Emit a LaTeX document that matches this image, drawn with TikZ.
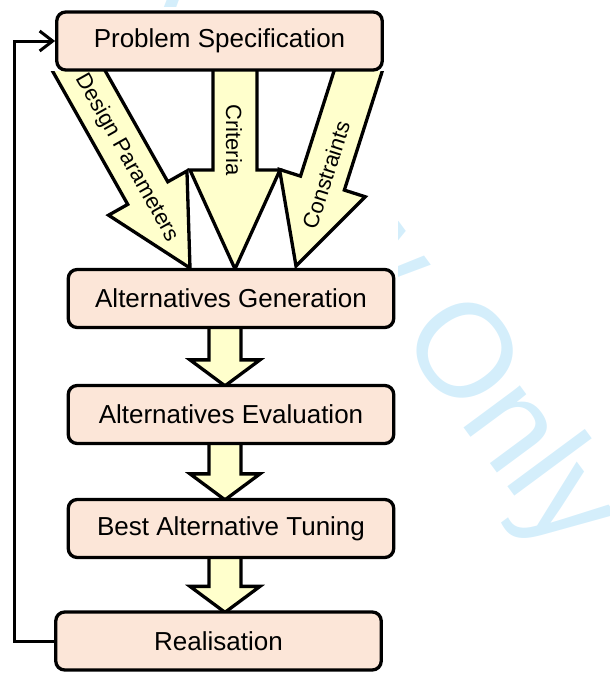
\documentclass[tikz,border=0pt]{standalone}
\usepackage{fontspec}
\setmainfont{Liberation Sans}
\usetikzlibrary{arrows.meta,calc,backgrounds}

\definecolor{boxfill}{RGB}{252,230,216}
\definecolor{arrowfill}{RGB}{255,255,204}
\definecolor{wmark}{RGB}{212,238,251}

% Block arrow: #1 tail, #2 tip, #3 shaft half-width, #4 head half-width, #5 head length
\newcommand\blockarrow[5]{%
  \path ($(#2)!#5!(#1)$) coordinate (ba-base);
  \filldraw[blockarrow]
    ($(#1)!#3!90:(#2)$) -- ($(ba-base)!#3!90:(#2)$) -- ($(ba-base)!#4!90:(#2)$)
    -- (#2)
    -- ($(ba-base)!#4!-90:(#2)$) -- ($(ba-base)!#3!-90:(#2)$) -- ($(#1)!#3!-90:(#2)$) -- cycle;
}

\begin{document}
\begin{tikzpicture}[x=1pt,y=-1pt,
  stagebox/.style={draw=black, line width=3.3pt, fill=boxfill, rounded corners=9pt,
    minimum width=325.5pt, minimum height=58pt, inner sep=0pt,
    font=\fontsize{26}{30}\selectfont},
  blockarrow/.style={draw=black, line width=3.3pt, fill=arrowfill, line join=miter},
  arrowlabel/.style={inner sep=0pt, font=\fontsize{22}{26}\selectfont},
  feedback/.style={draw=black, line width=3pt, -{Straight Barb[length=13pt,width=20pt]}},
  watermark/.style={inner sep=0pt, text=wmark, font=\fontsize{133}{140}\selectfont}]

\useasboundingbox (0,0) rectangle (610,673);

% process stages
\node[stagebox] (ps)   at (219.5,41)  {Problem Specification};
\node[stagebox] (gen)  at (231,298.5) {Alternatives Generation};
\node[stagebox] (eval) at (231,414.5) {Alternatives Evaluation};
\node[stagebox] (tune) at (231,528.5) {Best Alternative Tuning};
\node[stagebox] (real) at (218.5,641) {Realisation};

% watermark behind a white panel, then the block arrows
\begin{scope}[on background layer]
  \node[watermark, anchor=base east, rotate=-53.5] (wm) at (560,557) {For Peer Review Only};
  \fill[white] (0,7) rectangle (398,673);

  \begin{scope}
    \clip (ps.south -| 0,0) rectangle (610,673);
    \coordinate (dp-tail) at (62,41);   \coordinate (dp-tip) at (190,268);
    \coordinate (cr-tail) at (235,40);  \coordinate (cr-tip) at (235,269);
    \coordinate (co-tail) at (369,37);  \coordinate (co-tip) at (296,266);
    \blockarrow{dp-tail}{dp-tip}{23pt}{45pt}{86pt}
    \blockarrow{cr-tail}{cr-tip}{22pt}{45pt}{99pt}
    \blockarrow{co-tail}{co-tip}{23pt}{45pt}{87pt}
  \end{scope}

  \blockarrow{$(gen.south)+(-6,-10)$}{$(eval.north)+(-6,2)$}{16pt}{35pt}{26pt}
  \blockarrow{$(eval.south)+(-6,-10)$}{$(tune.north)+(-6,2)$}{16pt}{35pt}{26pt}
  \blockarrow{$(tune.south)+(-6,-10)$}{$(real.north -| tune.south)+(-6,2)$}{16pt}{35pt}{26pt}
\end{scope}

% labels on the input arrows
\node[arrowlabel, rotate=-60.6] (lab-dp) at (127,158) {Design Parameters};
\node[arrowlabel, rotate=-90]   (lab-cr) at (234,140) {Criteria};
\node[arrowlabel, rotate=72.2]  (lab-co) at (326,175) {Constraints};

% feedback loop from realisation back to the specification
\draw[feedback] (real.west) -- ++(-40,0) |- (ps.west);

\end{tikzpicture}
\end{document}
